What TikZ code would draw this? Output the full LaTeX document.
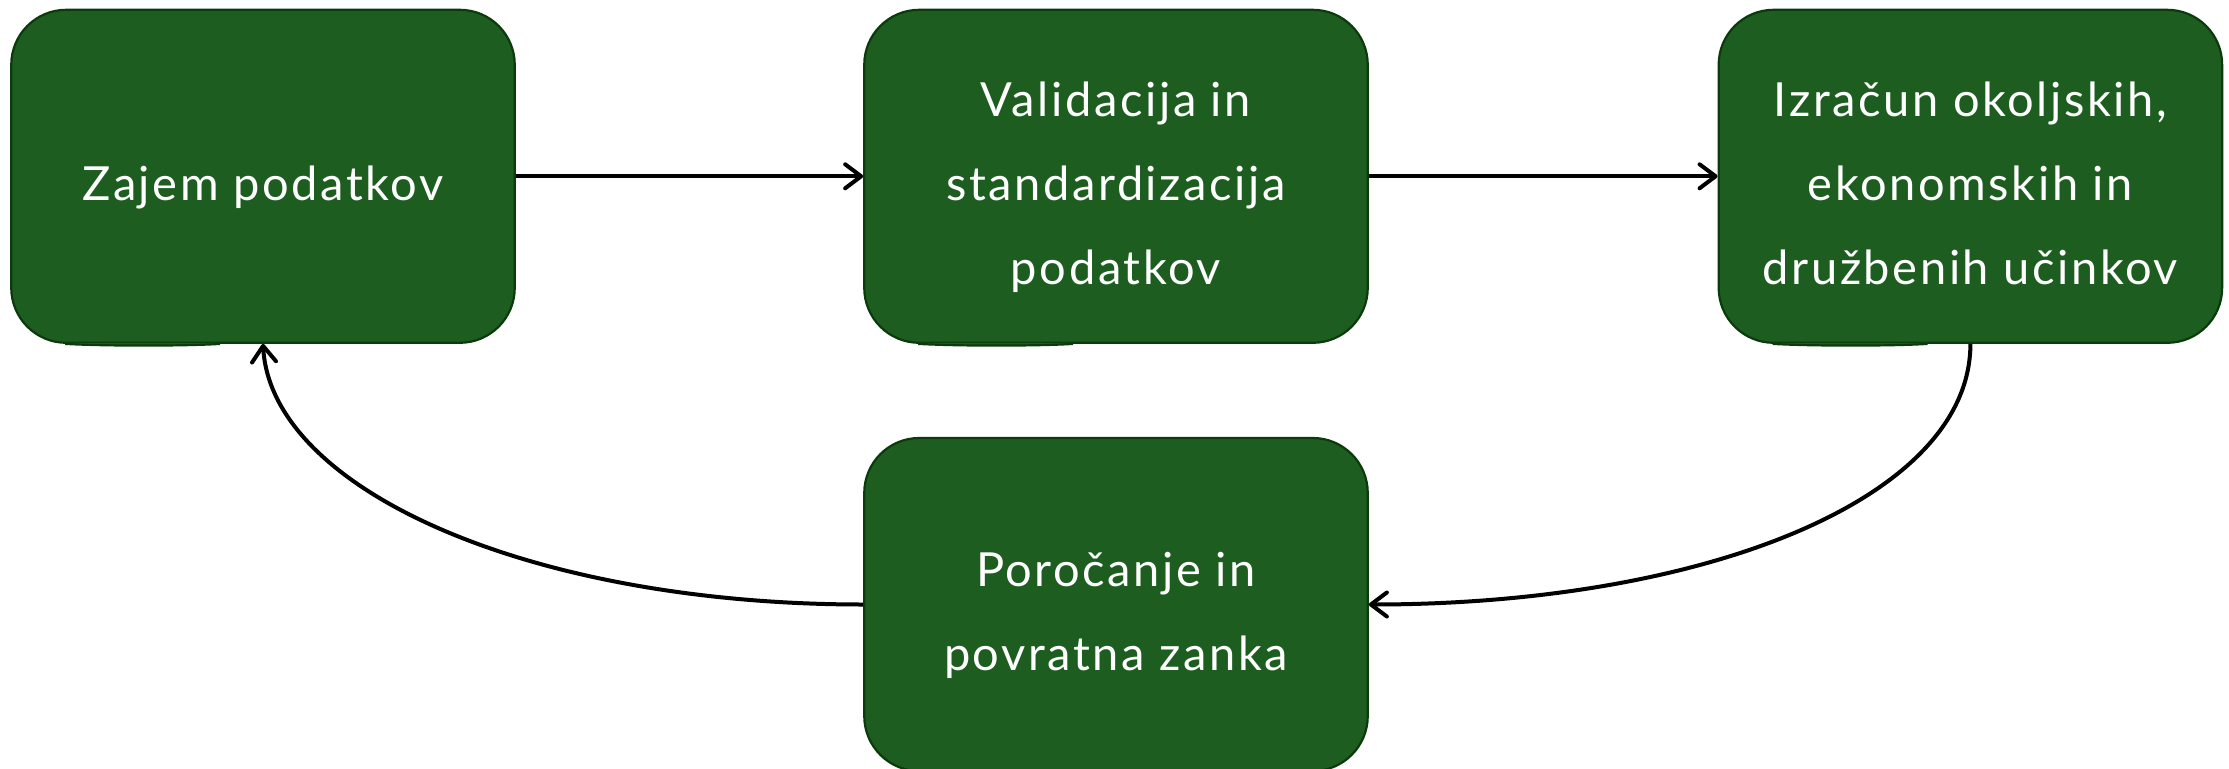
\documentclass[tikz,border=0pt]{standalone}
\usepackage{fontspec}
\setmainfont{Lato}[LetterSpace=5.5]
\usetikzlibrary{arrows.meta}
\definecolor{boxfill}{HTML}{1D5E20}
\definecolor{boxline}{HTML}{0B3A0C}
\tikzset{
  stagebox/.style={draw=boxline, fill=boxfill, line width=2.2pt, rounded corners=55pt,
    minimum width=503.5pt, minimum height=333pt, inner sep=0pt, text=white, align=center,
    font=\fontsize{47}{84}\selectfont},
  conn/.style={draw=black, line width=4pt, -{Straight Barb[length=16pt, width=24pt, line width=4pt, round]}},
}
\newcommand{\myfirst}{\rule{0pt}{60pt}}
\newcommand{\mylast}{\rule[-12pt]{0pt}{12pt}}
\newcommand{\mybulge}[1]{%
  \fill[boxfill, shift={(#1.south west)}] (55,-1) -- (55,0) .. controls (100,2.5) and (180,2) .. (210,0) -- (210,-1) -- cycle;
  \draw[boxline, line width=2.2pt, shift={(#1.south west)}] (55,0) .. controls (100,2.5) and (180,2) .. (210,0);}
\begin{document}
\begin{tikzpicture}[x=1pt, y=-1pt]
\useasboundingbox (0,0) rectangle (2229,768);
\node[stagebox] (b1) at (263,176.3) {\myfirst Zajem podatkov\mylast};
\node[stagebox] (b2) at (1116,176.3) {\myfirst Validacija in\\standardizacija\\podatkov\mylast};
\node[stagebox] (b3) at (1970.4,176.3) {\myfirst Izračun okoljskih,\\ekonomskih in\\družbenih učinkov\mylast};
\node[stagebox] (b4) at (1116,604.5) {\myfirst Poročanje in\\povratna zanka\mylast};
\mybulge{b1}\mybulge{b2}\mybulge{b3}
\draw[conn] (b1.east) -- (b2.west);
\draw[conn] (b2.east) -- (b3.west);
\draw[conn] (b3.south) .. controls +(0,155) and +(335,0) .. (b4.east);
\draw[conn] (b4.west) .. controls +(-335,0) and +(8,145) .. (b1.south);
\end{tikzpicture}
\end{document}
